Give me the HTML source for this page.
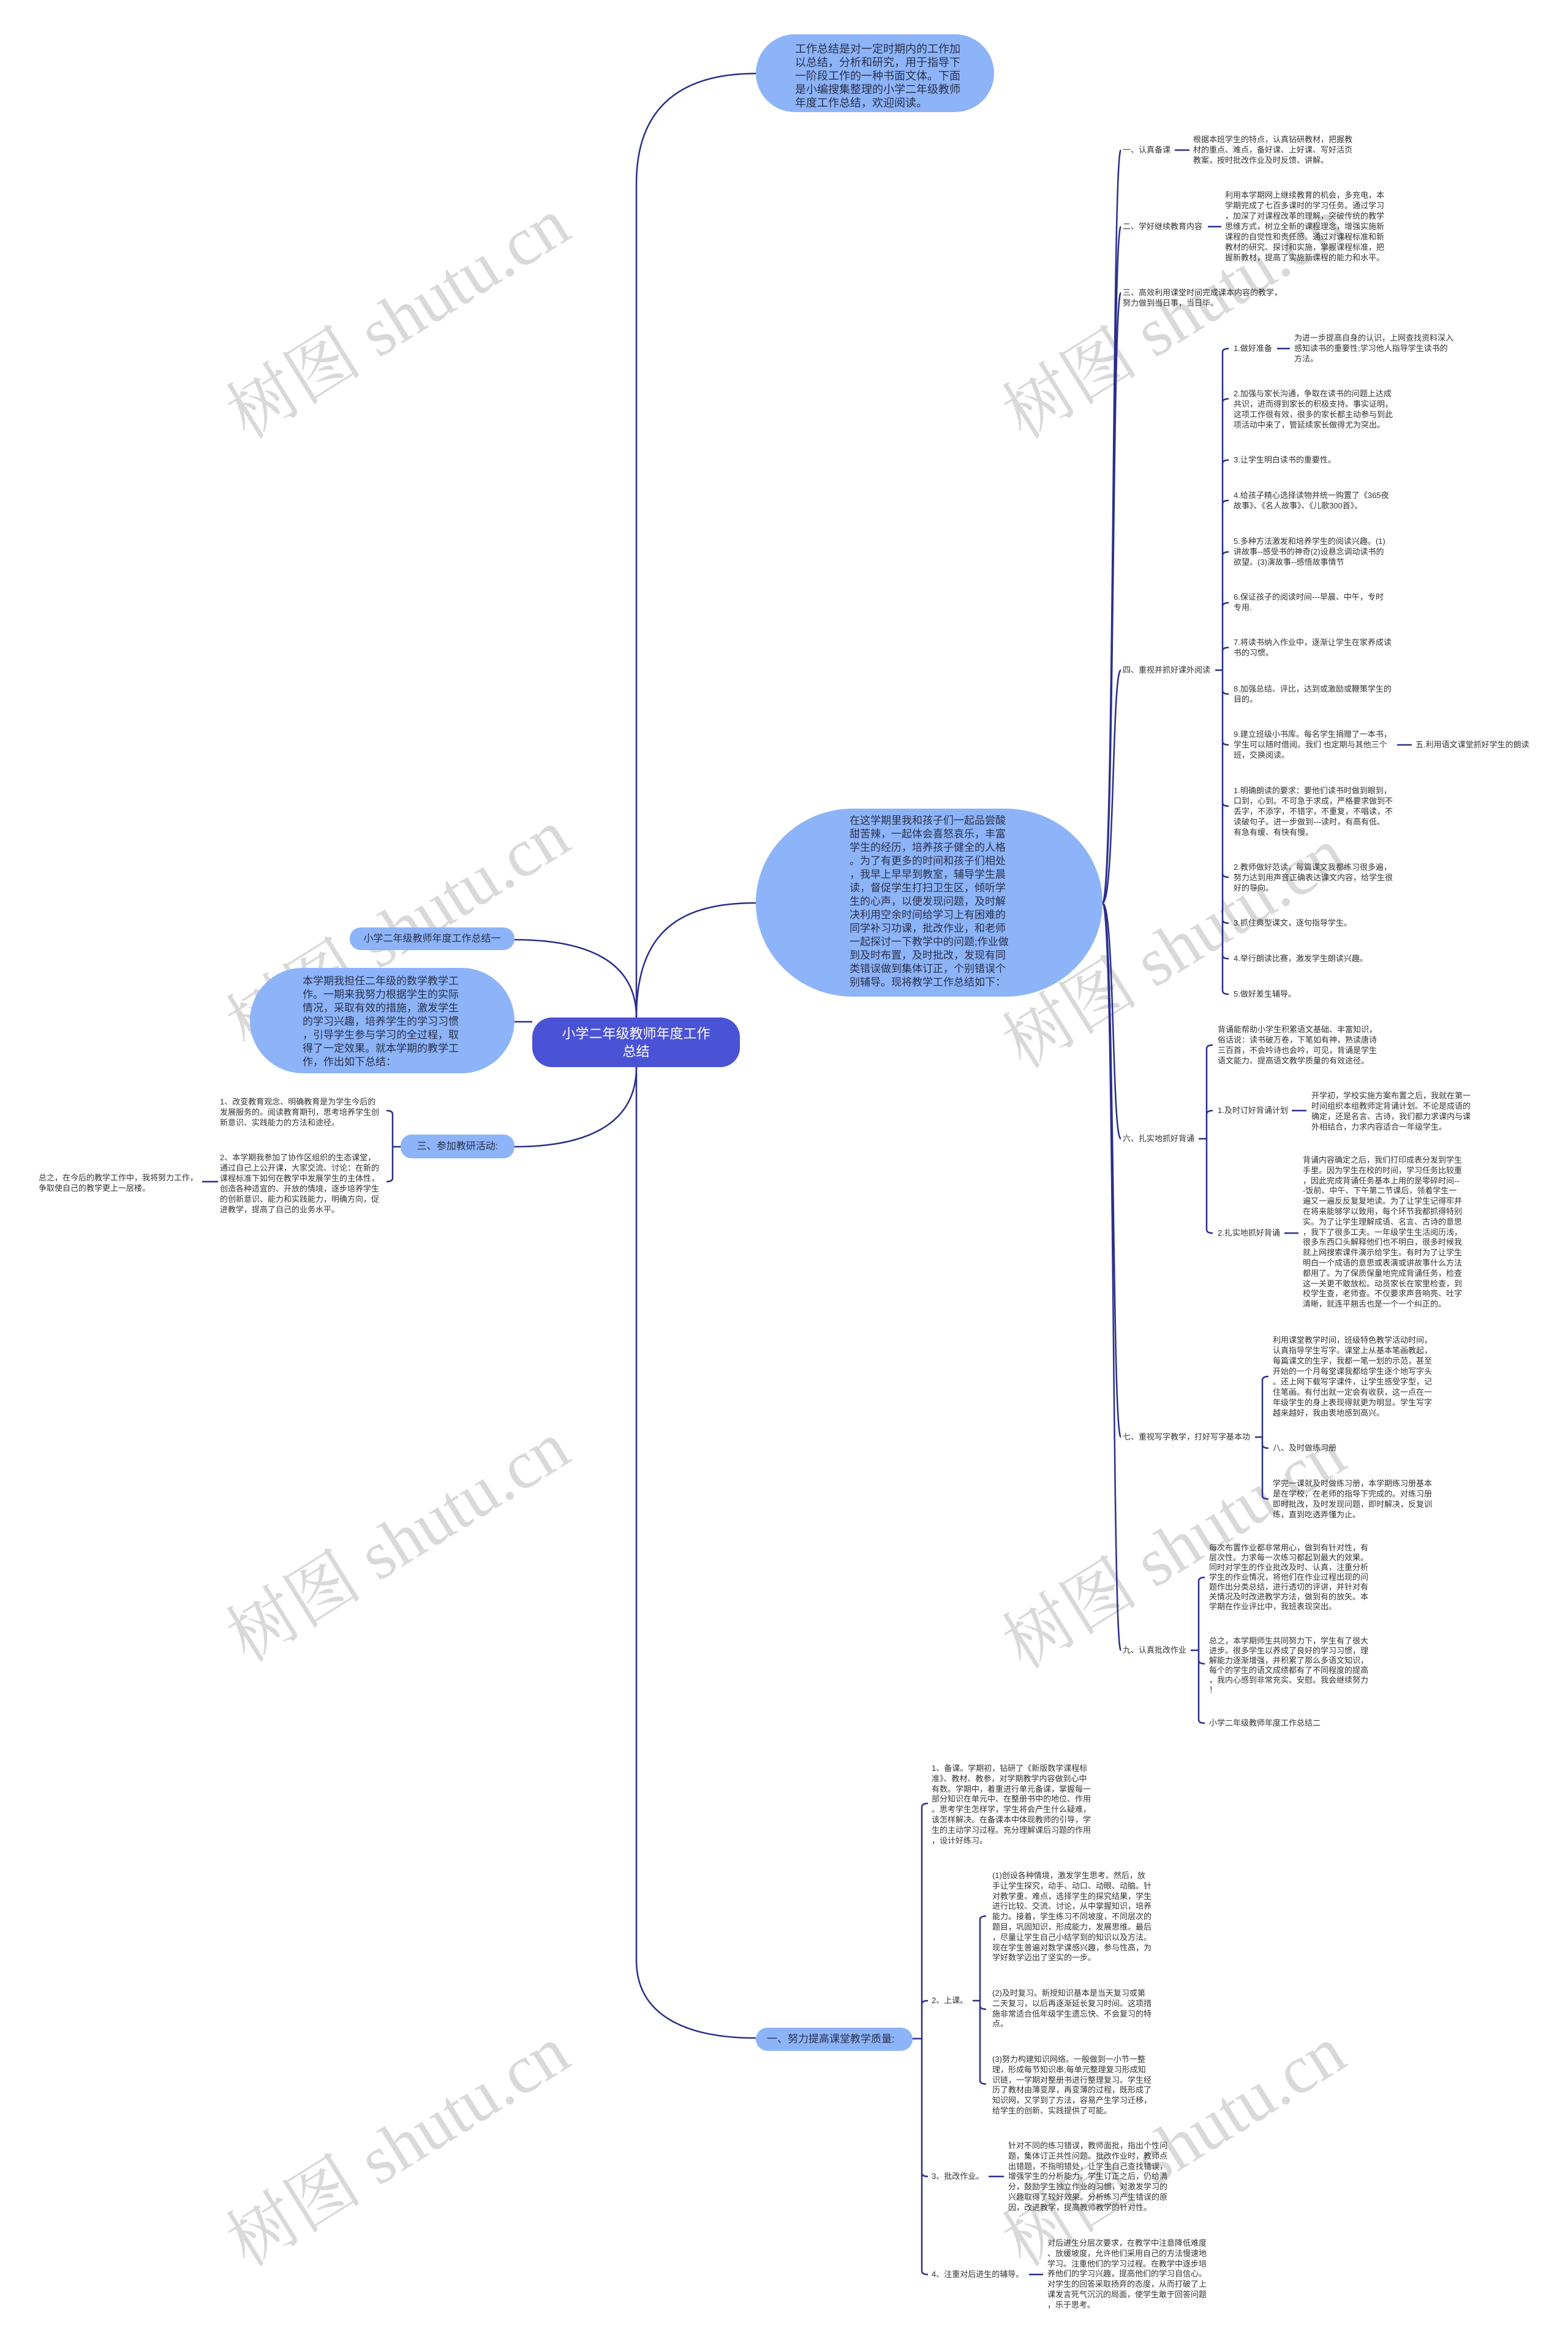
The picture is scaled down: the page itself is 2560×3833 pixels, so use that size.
<!DOCTYPE html>
<html><head><meta charset="utf-8">
<style>
*{margin:0;padding:0;box-sizing:border-box}
body{width:2560px;height:3833px;background:#fff;position:relative;overflow:hidden;font-family:"Liberation Sans","Noto Sans CJK SC",sans-serif;color:#333}
.t{position:absolute;font-size:13px;line-height:17px;white-space:nowrap;color:#333}
.b{position:absolute;background:#8db4f9;color:#2a2f4a;font-size:17px;line-height:22px;white-space:nowrap}
.wm{position:absolute;font-family:"Liberation Serif","Noto Serif CJK SC",serif;font-size:112px;color:rgba(120,120,120,0.28);white-space:nowrap;transform:translate(-50%,-50%) rotate(-32deg)}
svg{position:absolute;left:0;top:0}
</style></head><body>

<div class="wm" style="left:645px;top:512px">树图 shutu.cn</div>
<div class="wm" style="left:1912px;top:512px">树图 shutu.cn</div>
<div class="wm" style="left:645px;top:1510px">树图 shutu.cn</div>
<div class="wm" style="left:1912px;top:1540px">树图 shutu.cn</div>
<div class="wm" style="left:645px;top:2509px">树图 shutu.cn</div>
<div class="wm" style="left:1912px;top:2520px">树图 shutu.cn</div>
<div class="wm" style="left:645px;top:3496px">树图 shutu.cn</div>
<div class="wm" style="left:1912px;top:3496px">树图 shutu.cn</div>

<svg width="2560" height="3833" fill="none" stroke="#2a2f8c" stroke-width="2.5">
<path d="M1039,1661 L1039,300 C1039,160 1130,120 1234,120"/>
<path d="M1039,1661 C1039,1520 1110,1474 1234,1474"/>
<path d="M1039,1661 C1039,1570 960,1534 840,1534"/>
<path d="M869,1668 L840,1668"/>
<path d="M1039,1742 C1039,1840 950,1872 840,1872"/>
<path d="M1039,1742 L1039,3200 C1039,3290 1120,3327 1234,3327"/>
<path d="M1800,1474 C1820,1474 1815,245 1830,245"/>
<path d="M1800,1474 C1820,1474 1815,370 1830,370"/>
<path d="M1800,1474 C1820,1474 1815,478 1830,478"/>
<path d="M1800,1474 C1820,1474 1815,1094 1830,1094"/>
<path d="M1800,1474 C1820,1474 1815,1859 1830,1859"/>
<path d="M1800,1474 C1820,1474 1815,2346 1830,2346"/>
<path d="M1800,1474 C1820,1474 1815,2694 1830,2694"/>
<path d="M1918,245 H1942"/>
<path d="M1972,370 H1994"/>
<path d="M1984,1094 H1996"/>
<path d="M2085,569 H2106"/>
<path d="M2281,1216 H2305"/>
<path d="M1957,1859 H1970"/>
<path d="M2109,1813 H2133"/>
<path d="M2097,2013 H2120"/>
<path d="M2049,2346 H2061"/>
<path d="M1944,2694 H1957"/>
<path d="M641,1872 H654"/>
<path d="M330,1929 H356"/>
<path d="M1490,3328 H1505"/>
<path d="M1588,3266 H1600"/>
<path d="M1614,3553 H1639"/>
<path d="M1680,3713 H1703"/>
<path d="M1996,1094 V575 Q1996,569 2006,569 M1996,1094 V657 Q1996,651 2006,651 M1996,1094 V757 Q1996,751 2006,751 M1996,1094 V823 Q1996,817 2006,817 M1996,1094 V907 Q1996,901 2006,901 M1996,1094 V990 Q1996,984 2006,984 M1996,1094 V1063 Q1996,1057 2006,1057 M1996,1094 V1127 Q1996,1133 2006,1133 M1996,1094 V1210 Q1996,1216 2006,1216 M1996,1094 V1310 Q1996,1316 2006,1316 M1996,1094 V1426 Q1996,1432 2006,1432 M1996,1094 V1501 Q1996,1507 2006,1507 M1996,1094 V1559 Q1996,1565 2006,1565 M1996,1094 V1617 Q1996,1623 2006,1623"/>
<path d="M1970,1859 V1712 Q1970,1706 1980,1706 M1970,1859 V1819 Q1970,1813 1980,1813 M1970,1859 V2007 Q1970,2013 1980,2013"/>
<path d="M2061,2346 V2253 Q2061,2247 2071,2247 M2061,2346 V2358 Q2061,2364 2071,2364 M2061,2346 V2441 Q2061,2447 2071,2447"/>
<path d="M1957,2694 V2581 Q1957,2575 1967,2575 M1957,2694 V2710 Q1957,2716 1967,2716 M1957,2694 V2807 Q1957,2813 1967,2813"/>
<path d="M641,1872 V1819 Q641,1813 631,1813 M641,1872 V1923 Q641,1929 631,1929"/>
<path d="M1505,3328 V2950 Q1505,2944 1515,2944 M1505,3328 V3272 Q1505,3266 1515,3266 M1505,3328 V3547 Q1505,3553 1515,3553 M1505,3328 V3707 Q1505,3713 1515,3713"/>
<path d="M1600,3266 V3134 Q1600,3128 1610,3128 M1600,3266 V3274 Q1600,3280 1610,3280 M1600,3266 V3396 Q1600,3402 1610,3402"/>
</svg>

<div class="b" style="left:1234px;top:56px;width:389px;height:127px;border-radius:64px;padding:13px 0 0 64px;font-size:18px">工作总结是对一定时期内的工作加<br>以总结，分析和研究，用于指导下<br>一阶段工作的一种书面文体。下面<br>是小编搜集整理的小学二年级教师<br>年度工作总结，欢迎阅读。</div>

<div class="b" style="left:1234px;top:1320px;width:566px;height:307px;border-radius:160px/155px;padding:9px 0 0 153px">在这学期里我和孩子们一起品尝酸<br>甜苦辣，一起体会喜怒哀乐，丰富<br>学生的经历，培养孩子健全的人格<br>。为了有更多的时间和孩子们相处<br>，我早上早早到教室，辅导学生晨<br>读，督促学生打扫卫生区，倾听学<br>生的心声，以便发现问题，及时解<br>决利用空余时间给学习上有困难的<br>同学补习功课，批改作业，和老师<br>一起探讨一下教学中的问题;作业做<br>到及时布置，及时批改，发现有同<br>类错误做到集体订正，个别错误个<br>别辅导。现将教学工作总结如下：</div>

<div class="b" style="left:571px;top:1514px;width:269px;height:37px;border-radius:18px;font-size:16px;line-height:37px;text-align:center">小学二年级教师年度工作总结一</div>

<div class="b" style="left:408px;top:1580px;width:432px;height:172px;border-radius:86px;padding:11px 0 0 86px">本学期我担任二年级的数学教学工<br>作。一期来我努力根据学生的实际<br>情况，采取有效的措施，激发学生<br>的学习兴趣，培养学生的学习习惯<br>，引导学生参与学习的全过程，取<br>得了一定效果。就本学期的教学工<br>作，作出如下总结：</div>

<div style="position:absolute;left:869px;top:1661px;width:339px;height:81px;border-radius:32px;background:#4a52d6;color:#fff;font-size:22px;line-height:29px;text-align:center;padding-top:12px">小学二年级教师年度工作<br>总结</div>

<div class="b" style="left:654px;top:1852px;width:186px;height:39px;border-radius:18px;font-size:16px;line-height:39px;text-align:center">三、参加教研活动:</div>

<div class="b" style="left:1234px;top:3310px;width:256px;height:38px;border-radius:19px;font-size:17px;line-height:38px;padding-left:18px">一、努力提高课堂教学质量:</div>

<div class="t" style="left:359px;top:1790px">1、改变教育观念、明确教育是为学生今后的<br>发展服务的。阅读教育期刊，思考培养学生创<br>新意识、实践能力的方法和途径。</div>
<div class="t" style="left:359px;top:1881px">2、本学期我参加了协作区组织的生态课堂，<br>通过自己上公开课，大家交流、讨论：在新的<br>课程标准下如何在教学中发展学生的主体性，<br>创造各种适宜的、开放的情境，逐步培养学生<br>的创新意识、能力和实践能力，明确方向，促<br>进教学，提高了自己的业务水平。</div>
<div class="t" style="left:63px;top:1914px">总之，在今后的教学工作中，我将努力工作，<br>争取使自己的教学更上一层楼。</div>

<div class="t" style="left:1833px;top:236px">一、认真备课</div>
<div class="t" style="left:1948px;top:219px">根据本班学生的特点，认真钻研教材，把握教<br>材的重点、难点，备好课、上好课、写好活页<br>教案，按时批改作业及时反馈、讲解。</div>
<div class="t" style="left:1833px;top:361px">二、学好继续教育内容</div>
<div class="t" style="left:2000px;top:310px">利用本学期网上继续教育的机会，多充电，本<br>学期完成了七百多课时的学习任务。通过学习<br>，加深了对课程改革的理解，突破传统的教学<br>思维方式，树立全新的课程理念，增强实施新<br>课程的自觉性和责任感。通过对课程标准和新<br>教材的研究、探讨和实施，掌握课程标准，把<br>握新教材，提高了实施新课程的能力和水平。</div>
<div class="t" style="left:1833px;top:469px">三、高效利用课堂时间完成课本内容的教学，<br>努力做到当日事，当日毕。</div>
<div class="t" style="left:1833px;top:1085px">四、重视并抓好课外阅读</div>
<div class="t" style="left:2014px;top:560px">1.做好准备</div>
<div class="t" style="left:2113px;top:543px">为进一步提高自身的认识，上网查找资料深入<br>感知读书的重要性;学习他人指导学生读书的<br>方法。</div>
<div class="t" style="left:2014px;top:634px">2.加强与家长沟通，争取在读书的问题上达成<br>共识，进而得到家长的积极支持。事实证明，<br>这项工作很有效，很多的家长都主动参与到此<br>项活动中来了，管延续家长做得尤为突出。</div>
<div class="t" style="left:2014px;top:742px">3.让学生明白读书的重要性。</div>
<div class="t" style="left:2014px;top:800px">4.给孩子精心选择读物并统一购置了《365夜<br>故事》、《名人故事》、《儿歌300首》。</div>
<div class="t" style="left:2014px;top:875px">5.多种方法激发和培养学生的阅读兴趣。(1)<br>讲故事--感受书的神奇(2)设悬念调动读书的<br>欲望。(3)演故事--感悟故事情节</div>
<div class="t" style="left:2014px;top:966px">6.保证孩子的阅读时间---早晨、中午，专时<br>专用.</div>
<div class="t" style="left:2014px;top:1040px">7.将读书纳入作业中，逐渐让学生在家养成读<br>书的习惯。</div>
<div class="t" style="left:2014px;top:1116px">8.加强总结、评比，达到或激励或鞭策学生的<br>目的。</div>
<div class="t" style="left:2014px;top:1190px">9.建立班级小书库。每名学生捐赠了一本书，<br>学生可以随时借阅。我们 也定期与其他三个<br>班，交换阅读。</div>
<div class="t" style="left:2311px;top:1207px">五.利用语文课堂抓好学生的朗读</div>
<div class="t" style="left:2014px;top:1282px">1.明确朗读的要求：要他们读书时做到眼到，<br>口到，心到。不可急于求成，严格要求做到不<br>丢字，不添字，不错字，不重复，不唱读，不<br>读破句子。进一步做到---读时，有高有低、<br>有急有缓、有快有慢。</div>
<div class="t" style="left:2014px;top:1407px">2.教师做好范读，每篇课文我都练习很多遍，<br>努力达到用声音正确表达课文内容，给学生很<br>好的导向。</div>
<div class="t" style="left:2014px;top:1498px">3.抓住典型课文，逐句指导学生。</div>
<div class="t" style="left:2014px;top:1556px">4.举行朗读比赛，激发学生朗读兴趣。</div>
<div class="t" style="left:2014px;top:1614px">5.做好差生辅导。</div>

<div class="t" style="left:1833px;top:1850px">六、扎实地抓好背诵</div>
<div class="t" style="left:1988px;top:1672px">背诵能帮助小学生积累语文基础、丰富知识，<br>俗话说：读书破万卷，下笔如有神，熟读唐诗<br>三百首，不会吟诗也会吟，可见，背诵是学生<br>语文能力、提高语文教学质量的有效途径。</div>
<div class="t" style="left:1988px;top:1804px">1.及时订好背诵计划</div>
<div class="t" style="left:2141px;top:1780px">开学初，学校实施方案布置之后，我就在第一<br>时间组织本组教师定背诵计划。不论是成语的<br>确定，还是名言、古诗，我们都力求课内与课<br>外相结合，力求内容适合一年级学生。</div>
<div class="t" style="left:1988px;top:2004px">2.扎实地抓好背诵</div>
<div class="t" style="left:2127px;top:1886px;line-height:16.8px">背诵内容确定之后，我们打印成表分发到学生<br>手里。因为学生在校的时间，学习任务比较重<br>，因此完成背诵任务基本上用的是零碎时间--<br>-饭前、中午、下午第二节课后，领着学生一<br>遍又一遍反反复复地读。为了让学生记得牢并<br>在将来能够学以致用，每个环节我都抓得特别<br>实。为了让学生理解成语、名言、古诗的意思<br>，我下了很多工夫。一年级学生生活阅历浅，<br>很多东西口头解释他们也不明白，很多时候我<br>就上网搜索课件演示给学生。有时为了让学生<br>明白一个成语的意思或表演或讲故事什么方法<br>都用了。为了保质保量地完成背诵任务，检查<br>这一关更不敢放松。动员家长在家里检查，到<br>校学生查，老师查。不仅要求声音响亮、吐字<br>清晰，就连平翘舌也是一个一个纠正的。</div>

<div class="t" style="left:1833px;top:2337px">七、重视写字教学，打好写字基本功</div>
<div class="t" style="left:2078px;top:2179px">利用课堂教学时间，班级特色教学活动时间，<br>认真指导学生写字。课堂上从基本笔画教起，<br>每篇课文的生字，我都一笔一划的示范，甚至<br>开始的一个月每堂课我都给学生逐个地写字头<br>。还上网下载写字课件，让学生感受字型，记<br>住笔画。有付出就一定会有收获，这一点在一<br>年级学生的身上表现得就更为明显。学生写字<br>越来越好，我由衷地感到高兴。</div>
<div class="t" style="left:2078px;top:2355px">八、及时做练习册</div>
<div class="t" style="left:2078px;top:2413px">学完一课就及时做练习册，本学期练习册基本<br>是在学校，在老师的指导下完成的。对练习册<br>即时批改，及时发现问题，即时解决，反复训<br>练，直到吃透弄懂为止。</div>

<div class="t" style="left:1833px;top:2685px">九、认真批改作业</div>
<div class="t" style="left:1974px;top:2519px;line-height:16px">每次布置作业都非常用心，做到有针对性，有<br>层次性。力求每一次练习都起到最大的效果。<br>同时对学生的作业批改及时、认真，注重分析<br>学生的作业情况，将他们在作业过程出现的问<br>题作出分类总结，进行透切的评讲，并针对有<br>关情况及时改进教学方法，做到有的放矢。本<br>学期在作业评比中，我班表现突出。</div>
<div class="t" style="left:1974px;top:2671px;line-height:16px">总之，本学期师生共同努力下，学生有了很大<br>进步。很多学生以养成了良好的学习习惯，理<br>解能力逐渐增强，并积累了那么多语文知识，<br>每个的学生的语文成绩都有了不同程度的提高<br>，我内心感到非常充实、安慰。我会继续努力<br>！</div>
<div class="t" style="left:1974px;top:2804px">小学二年级教师年度工作总结二</div>

<div class="t" style="left:1521px;top:2879px;line-height:16.8px">1、备课。学期初，钻研了《新版数学课程标<br>准》、教材、教参，对学期教学内容做到心中<br>有数。学期中，着重进行单元备课，掌握每一<br>部分知识在单元中、在整册书中的地位、作用<br>。思考学生怎样学，学生将会产生什么疑难，<br>该怎样解决。在备课本中体现教师的引导，学<br>生的主动学习过程。充分理解课后习题的作用<br>，设计好练习。</div>
<div class="t" style="left:1521px;top:3257px">2、上课。</div>
<div class="t" style="left:1620px;top:3054px;line-height:16.8px">(1)创设各种情境，激发学生思考。然后，放<br>手让学生探究，动手、动口、动眼、动脑。针<br>对教学重、难点，选择学生的探究结果，学生<br>进行比较、交流、讨论，从中掌握知识，培养<br>能力。接着，学生练习不同坡度，不同层次的<br>题目，巩固知识，形成能力，发展思维。最后<br>，尽量让学生自己小结学到的知识以及方法。<br>现在学生普遍对数学课感兴趣，参与性高，为<br>学好数学迈出了坚实的一步。</div>
<div class="t" style="left:1620px;top:3246px;line-height:16.8px">(2)及时复习。新授知识基本是当天复习或第<br>二天复习，以后再逐渐延长复习时间。这项措<br>施非常适合低年级学生遗忘快、不会复习的特<br>点。</div>
<div class="t" style="left:1620px;top:3354px;line-height:16.8px">(3)努力构建知识网络。一般做到一小节一整<br>理，形成每节知识串;每单元整理复习形成知<br>识链，一学期对整册书进行整理复习。学生经<br>历了教材由薄变厚，再变薄的过程，既形成了<br>知识网，又学到了方法，容易产生学习迁移，<br>给学生的创新、实践提供了可能。</div>
<div class="t" style="left:1521px;top:3544px">3、批改作业。</div>
<div class="t" style="left:1646px;top:3495px;line-height:16.8px">针对不同的练习错误，教师面批，指出个性问<br>题，集体订正共性问题。批改作业时，教师点<br>出错题，不指明错处，让学生自己查找错误，<br>增强学生的分析能力。学生订正之后，仍给满<br>分，鼓励学生独立作业的习惯，对激发学习的<br>兴趣取得了较好效果。分析练习产生错误的原<br>因，改进教学，提高教师教学的针对性。</div>
<div class="t" style="left:1521px;top:3704px">4、注重对后进生的辅导。</div>
<div class="t" style="left:1710px;top:3654px;line-height:16.8px">对后进生分层次要求，在教学中注意降低难度<br>、放缓坡度，允许他们采用自己的方法慢速地<br>学习。注重他们的学习过程。在教学中逐步培<br>养他们的学习兴趣，提高他们的学习自信心。<br>对学生的回答采取扬弃的态度，从而打破了上<br>课发言死气沉沉的局面，使学生敢于回答问题<br>，乐于思考。</div>

</body></html>
